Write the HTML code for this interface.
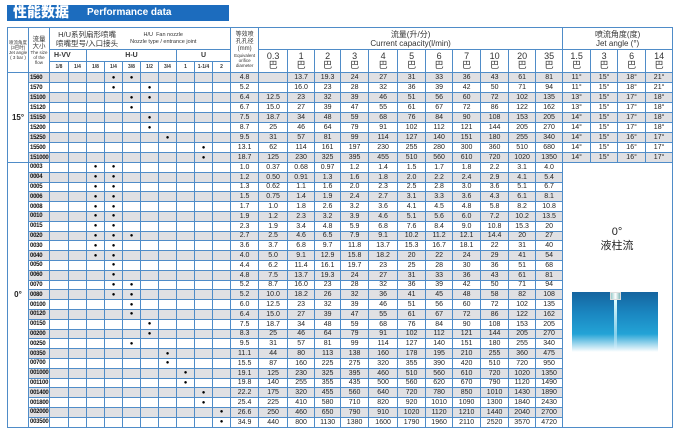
<!DOCTYPE html>
<html><head><meta charset="utf-8"><style>
*{margin:0;padding:0;box-sizing:border-box}
body{width:679px;height:438px;background:#fff;position:relative;overflow:hidden;font-family:"Liberation Sans","Noto Sans CJK SC",sans-serif;color:#333}
.title{position:absolute;left:7px;top:5px;width:222px;height:16px;background:#1c6cbe;color:#fff;font-weight:bold;white-space:nowrap}
.title .cn{position:absolute;left:6px;top:-1px;font-size:14px;line-height:17px;font-family:"Noto Sans CJK SC",sans-serif;font-weight:900}
.title .en{position:absolute;left:80px;top:0;font-size:10px;line-height:16px}
table{position:absolute;left:7px;top:27px;border-collapse:collapse;table-layout:fixed;width:665px;border:1.5px solid #4f8cc8}
td{border:1px solid #4f8cc8;padding:0;text-align:center;font-size:7px;line-height:1;overflow:hidden;white-space:nowrap;color:#222;font-family:"Liberation Sans","Noto Sans CJK SC",sans-serif}
tbody tr{height:10px}
tbody tr.z{height:9.8px}
tr.g td{background:#e0e0e3}
tr.g td.w{background:#fff}
td.s{text-align:left;font-weight:bold;font-size:6px;letter-spacing:-0.25px;padding-left:1px;color:#111}
td.d{font-size:6px;color:#000}
.h td{color:#333}
.ang{font-weight:bold;font-size:8px;background:#fff}
.p{font-size:9px;line-height:9px}
.tiny{font-size:4.5px;line-height:5px}
</style></head><body>
<div class="title"><span class="cn">性能数据</span><span class="en">Performance data</span></div>
<table>
<colgroup>
<col style="width:21px"><col style="width:21px"><col style="width:19px"><col style="width:18px"><col style="width:18px"><col style="width:18px"><col style="width:18px"><col style="width:18px"><col style="width:18px"><col style="width:18px"><col style="width:18px"><col style="width:18px"><col style="width:28px"><col style="width:29px"><col style="width:27px"><col style="width:26px"><col style="width:28px"><col style="width:29px"><col style="width:28px"><col style="width:27px"><col style="width:28px"><col style="width:28px"><col style="width:27px"><col style="width:27px"><col style="width:28px"><col style="width:27px"><col style="width:28px"><col style="width:27px">
</colgroup>
<thead class="h">
<tr style="height:22px"><td rowspan="3" class="tiny">喷流角度<br>(3巴时)<br>Jet angle<br>( 3 bar )</td><td rowspan="3" class="tiny"><span style="font-size:6.5px;line-height:7px">流量<br>大小</span><br>The size<br>of the<br>flow</td>
<td colspan="10" style="text-align:left;padding-left:6px"><div style="display:flex;align-items:center"><div style="font-size:7.5px;line-height:9px;text-align:center">H/U系列扇形喷嘴<br>喷嘴型号/入口接头</div><div style="font-size:5.5px;line-height:7px;text-align:center;margin-left:12px">H/U &nbsp;Fan nozzle<br>Nozzle type / entrance joint</div></div></td>
<td rowspan="3" class="tiny"><span style="font-size:6px;line-height:7px">等效喷<br>孔孔径<br>(mm)</span><br>Equivalent<br>orifice<br>diameter</td>
<td colspan="11" style="font-size:8px;line-height:9px">流量(升/分)<br>Current capacity(l/min)</td>
<td colspan="4" style="font-size:8px;line-height:9px">喷流角度(度)<br>Jet angle (°)</td></tr>
<tr style="height:12px"><td colspan="2" style="font-weight:bold;font-size:7px;text-align:left;padding-left:4px">H-VV</td><td colspan="5" style="font-weight:bold;font-size:7px">H-U</td><td colspan="3" style="font-weight:bold;font-size:7px">U</td>
<td rowspan="2" class="p">0.3<br>巴</td><td rowspan="2" class="p">1<br>巴</td><td rowspan="2" class="p">2<br>巴</td><td rowspan="2" class="p">3<br>巴</td><td rowspan="2" class="p">4<br>巴</td><td rowspan="2" class="p">5<br>巴</td><td rowspan="2" class="p">6<br>巴</td><td rowspan="2" class="p">7<br>巴</td><td rowspan="2" class="p">10<br>巴</td><td rowspan="2" class="p">20<br>巴</td><td rowspan="2" class="p">35<br>巴</td><td rowspan="2" class="p">1.5<br>巴</td><td rowspan="2" class="p">3<br>巴</td><td rowspan="2" class="p">6<br>巴</td><td rowspan="2" class="p">14<br>巴</td></tr>
<tr style="height:11px"><td style="font-size:5px;font-weight:bold">1/8</td><td style="font-size:5px;font-weight:bold">1/4</td><td style="font-size:5px;font-weight:bold">1/8</td><td style="font-size:5px;font-weight:bold">1/4</td><td style="font-size:5px;font-weight:bold">3/8</td><td style="font-size:5px;font-weight:bold">1/2</td><td style="font-size:5px;font-weight:bold">3/4</td><td style="font-size:5px;font-weight:bold">1</td><td style="font-size:5px;font-weight:bold">1-1/4</td><td style="font-size:5px;font-weight:bold">2</td></tr>
</thead>
<tbody>
<tr class="g"><td rowspan="9" class="ang w">15°</td><td class="s">1560</td><td></td><td></td><td></td><td class="d">●</td><td class="d">●</td><td></td><td></td><td></td><td></td><td></td><td>4.8</td><td></td><td>13.7</td><td>19.3</td><td>24</td><td>27</td><td>31</td><td>33</td><td>36</td><td>43</td><td>61</td><td>81</td><td>11°</td><td>15°</td><td>18°</td><td>21°</td></tr>
<tr><td class="s">1570</td><td></td><td></td><td></td><td class="d">●</td><td></td><td class="d">●</td><td></td><td></td><td></td><td></td><td>5.2</td><td></td><td>16.0</td><td>23</td><td>28</td><td>32</td><td>36</td><td>39</td><td>42</td><td>50</td><td>71</td><td>94</td><td>11°</td><td>15°</td><td>18°</td><td>21°</td></tr>
<tr class="g"><td class="s">15100</td><td></td><td></td><td></td><td></td><td class="d">●</td><td class="d">●</td><td></td><td></td><td></td><td></td><td>6.4</td><td>12.5</td><td>23</td><td>32</td><td>39</td><td>46</td><td>51</td><td>56</td><td>60</td><td>72</td><td>102</td><td>135</td><td>13°</td><td>15°</td><td>17°</td><td>18°</td></tr>
<tr><td class="s">15120</td><td></td><td></td><td></td><td></td><td class="d">●</td><td></td><td></td><td></td><td></td><td></td><td>6.7</td><td>15.0</td><td>27</td><td>39</td><td>47</td><td>55</td><td>61</td><td>67</td><td>72</td><td>86</td><td>122</td><td>162</td><td>13°</td><td>15°</td><td>17°</td><td>18°</td></tr>
<tr class="g"><td class="s">15150</td><td></td><td></td><td></td><td></td><td></td><td class="d">●</td><td></td><td></td><td></td><td></td><td>7.5</td><td>18.7</td><td>34</td><td>48</td><td>59</td><td>68</td><td>76</td><td>84</td><td>90</td><td>108</td><td>153</td><td>205</td><td>14°</td><td>15°</td><td>17°</td><td>18°</td></tr>
<tr><td class="s">15200</td><td></td><td></td><td></td><td></td><td></td><td class="d">●</td><td></td><td></td><td></td><td></td><td>8.7</td><td>25</td><td>46</td><td>64</td><td>79</td><td>91</td><td>102</td><td>112</td><td>121</td><td>144</td><td>205</td><td>270</td><td>14°</td><td>15°</td><td>17°</td><td>18°</td></tr>
<tr class="g"><td class="s">15250</td><td></td><td></td><td></td><td></td><td></td><td></td><td class="d">●</td><td></td><td></td><td></td><td>9.5</td><td>31</td><td>57</td><td>81</td><td>99</td><td>114</td><td>127</td><td>140</td><td>151</td><td>180</td><td>255</td><td>340</td><td>14°</td><td>15°</td><td>16°</td><td>17°</td></tr>
<tr><td class="s">15500</td><td></td><td></td><td></td><td></td><td></td><td></td><td></td><td></td><td class="d">●</td><td></td><td>13.1</td><td>62</td><td>114</td><td>161</td><td>197</td><td>230</td><td>255</td><td>280</td><td>300</td><td>360</td><td>510</td><td>680</td><td>14°</td><td>15°</td><td>16°</td><td>17°</td></tr>
<tr class="g"><td class="s">151000</td><td></td><td></td><td></td><td></td><td></td><td></td><td></td><td></td><td class="d">●</td><td></td><td>18.7</td><td>125</td><td>230</td><td>325</td><td>395</td><td>455</td><td>510</td><td>560</td><td>610</td><td>720</td><td>1020</td><td>1350</td><td>14°</td><td>15°</td><td>16°</td><td>17°</td></tr>
<tr class="z"><td rowspan="27" class="ang w">0°</td><td class="s">0003</td><td></td><td></td><td class="d">●</td><td class="d">●</td><td></td><td></td><td></td><td></td><td></td><td></td><td>1.0</td><td>0.37</td><td>0.68</td><td>0.97</td><td>1.2</td><td>1.4</td><td>1.5</td><td>1.7</td><td>1.8</td><td>2.2</td><td>3.1</td><td>4.0</td><td rowspan="27" colspan="4" class="w" style="background:#fff"></td></tr>
<tr class="z g"><td class="s">0004</td><td></td><td></td><td class="d">●</td><td class="d">●</td><td></td><td></td><td></td><td></td><td></td><td></td><td>1.2</td><td>0.50</td><td>0.91</td><td>1.3</td><td>1.6</td><td>1.8</td><td>2.0</td><td>2.2</td><td>2.4</td><td>2.9</td><td>4.1</td><td>5.4</td></tr>
<tr class="z"><td class="s">0005</td><td></td><td></td><td class="d">●</td><td class="d">●</td><td></td><td></td><td></td><td></td><td></td><td></td><td>1.3</td><td>0.62</td><td>1.1</td><td>1.6</td><td>2.0</td><td>2.3</td><td>2.5</td><td>2.8</td><td>3.0</td><td>3.6</td><td>5.1</td><td>6.7</td></tr>
<tr class="z g"><td class="s">0006</td><td></td><td></td><td class="d">●</td><td class="d">●</td><td></td><td></td><td></td><td></td><td></td><td></td><td>1.5</td><td>0.75</td><td>1.4</td><td>1.9</td><td>2.4</td><td>2.7</td><td>3.1</td><td>3.3</td><td>3.6</td><td>4.3</td><td>6.1</td><td>8.1</td></tr>
<tr class="z"><td class="s">0008</td><td></td><td></td><td class="d">●</td><td class="d">●</td><td></td><td></td><td></td><td></td><td></td><td></td><td>1.7</td><td>1.0</td><td>1.8</td><td>2.6</td><td>3.2</td><td>3.6</td><td>4.1</td><td>4.5</td><td>4.8</td><td>5.8</td><td>8.2</td><td>10.8</td></tr>
<tr class="z g"><td class="s">0010</td><td></td><td></td><td class="d">●</td><td class="d">●</td><td></td><td></td><td></td><td></td><td></td><td></td><td>1.9</td><td>1.2</td><td>2.3</td><td>3.2</td><td>3.9</td><td>4.6</td><td>5.1</td><td>5.6</td><td>6.0</td><td>7.2</td><td>10.2</td><td>13.5</td></tr>
<tr class="z"><td class="s">0015</td><td></td><td></td><td class="d">●</td><td class="d">●</td><td></td><td></td><td></td><td></td><td></td><td></td><td>2.3</td><td>1.9</td><td>3.4</td><td>4.8</td><td>5.9</td><td>6.8</td><td>7.6</td><td>8.4</td><td>9.0</td><td>10.8</td><td>15.3</td><td>20</td></tr>
<tr class="z g"><td class="s">0020</td><td></td><td></td><td class="d">●</td><td class="d">●</td><td class="d">●</td><td></td><td></td><td></td><td></td><td></td><td>2.7</td><td>2.5</td><td>4.6</td><td>6.5</td><td>7.9</td><td>9.1</td><td>10.2</td><td>11.2</td><td>12.1</td><td>14.4</td><td>20</td><td>27</td></tr>
<tr class="z"><td class="s">0030</td><td></td><td></td><td class="d">●</td><td class="d">●</td><td></td><td></td><td></td><td></td><td></td><td></td><td>3.6</td><td>3.7</td><td>6.8</td><td>9.7</td><td>11.8</td><td>13.7</td><td>15.3</td><td>16.7</td><td>18.1</td><td>22</td><td>31</td><td>40</td></tr>
<tr class="z g"><td class="s">0040</td><td></td><td></td><td class="d">●</td><td class="d">●</td><td></td><td></td><td></td><td></td><td></td><td></td><td>4.0</td><td>5.0</td><td>9.1</td><td>12.9</td><td>15.8</td><td>18.2</td><td>20</td><td>22</td><td>24</td><td>29</td><td>41</td><td>54</td></tr>
<tr class="z"><td class="s">0050</td><td></td><td></td><td></td><td class="d">●</td><td></td><td></td><td></td><td></td><td></td><td></td><td>4.4</td><td>6.2</td><td>11.4</td><td>16.1</td><td>19.7</td><td>23</td><td>25</td><td>28</td><td>30</td><td>36</td><td>51</td><td>68</td></tr>
<tr class="z g"><td class="s">0060</td><td></td><td></td><td></td><td class="d">●</td><td></td><td></td><td></td><td></td><td></td><td></td><td>4.8</td><td>7.5</td><td>13.7</td><td>19.3</td><td>24</td><td>27</td><td>31</td><td>33</td><td>36</td><td>43</td><td>61</td><td>81</td></tr>
<tr class="z"><td class="s">0070</td><td></td><td></td><td></td><td class="d">●</td><td class="d">●</td><td></td><td></td><td></td><td></td><td></td><td>5.2</td><td>8.7</td><td>16.0</td><td>23</td><td>28</td><td>32</td><td>36</td><td>39</td><td>42</td><td>50</td><td>71</td><td>94</td></tr>
<tr class="z g"><td class="s">0080</td><td></td><td></td><td></td><td class="d">●</td><td class="d">●</td><td></td><td></td><td></td><td></td><td></td><td>5.2</td><td>10.0</td><td>18.2</td><td>26</td><td>32</td><td>36</td><td>41</td><td>45</td><td>48</td><td>58</td><td>82</td><td>108</td></tr>
<tr class="z"><td class="s">00100</td><td></td><td></td><td></td><td></td><td class="d">●</td><td></td><td></td><td></td><td></td><td></td><td>6.0</td><td>12.5</td><td>23</td><td>32</td><td>39</td><td>46</td><td>51</td><td>56</td><td>60</td><td>72</td><td>102</td><td>135</td></tr>
<tr class="z g"><td class="s">00120</td><td></td><td></td><td></td><td></td><td class="d">●</td><td></td><td></td><td></td><td></td><td></td><td>6.4</td><td>15.0</td><td>27</td><td>39</td><td>47</td><td>55</td><td>61</td><td>67</td><td>72</td><td>86</td><td>122</td><td>162</td></tr>
<tr class="z"><td class="s">00150</td><td></td><td></td><td></td><td></td><td></td><td class="d">●</td><td></td><td></td><td></td><td></td><td>7.5</td><td>18.7</td><td>34</td><td>48</td><td>59</td><td>68</td><td>76</td><td>84</td><td>90</td><td>108</td><td>153</td><td>205</td></tr>
<tr class="z g"><td class="s">00200</td><td></td><td></td><td></td><td></td><td></td><td class="d">●</td><td></td><td></td><td></td><td></td><td>8.3</td><td>25</td><td>46</td><td>64</td><td>79</td><td>91</td><td>102</td><td>112</td><td>121</td><td>144</td><td>205</td><td>270</td></tr>
<tr class="z"><td class="s">00250</td><td></td><td></td><td></td><td></td><td class="d">●</td><td></td><td></td><td></td><td></td><td></td><td>9.5</td><td>31</td><td>57</td><td>81</td><td>99</td><td>114</td><td>127</td><td>140</td><td>151</td><td>180</td><td>255</td><td>340</td></tr>
<tr class="z g"><td class="s">00350</td><td></td><td></td><td></td><td></td><td></td><td></td><td class="d">●</td><td></td><td></td><td></td><td>11.1</td><td>44</td><td>80</td><td>113</td><td>138</td><td>160</td><td>178</td><td>195</td><td>210</td><td>255</td><td>360</td><td>475</td></tr>
<tr class="z"><td class="s">00700</td><td></td><td></td><td></td><td></td><td></td><td></td><td class="d">●</td><td></td><td></td><td></td><td>15.5</td><td>87</td><td>160</td><td>225</td><td>275</td><td>320</td><td>355</td><td>390</td><td>420</td><td>510</td><td>720</td><td>950</td></tr>
<tr class="z g"><td class="s">001000</td><td></td><td></td><td></td><td></td><td></td><td></td><td></td><td class="d">●</td><td></td><td></td><td>19.1</td><td>125</td><td>230</td><td>325</td><td>395</td><td>460</td><td>510</td><td>560</td><td>610</td><td>720</td><td>1020</td><td>1350</td></tr>
<tr class="z"><td class="s">001100</td><td></td><td></td><td></td><td></td><td></td><td></td><td></td><td class="d">●</td><td></td><td></td><td>19.8</td><td>140</td><td>255</td><td>355</td><td>435</td><td>500</td><td>560</td><td>620</td><td>670</td><td>790</td><td>1120</td><td>1490</td></tr>
<tr class="z g"><td class="s">001400</td><td></td><td></td><td></td><td></td><td></td><td></td><td></td><td></td><td class="d">●</td><td></td><td>22.2</td><td>175</td><td>320</td><td>455</td><td>560</td><td>640</td><td>720</td><td>780</td><td>850</td><td>1010</td><td>1430</td><td>1890</td></tr>
<tr class="z"><td class="s">001800</td><td></td><td></td><td></td><td></td><td></td><td></td><td></td><td></td><td class="d">●</td><td></td><td>25.4</td><td>225</td><td>410</td><td>580</td><td>710</td><td>820</td><td>920</td><td>1010</td><td>1090</td><td>1300</td><td>1840</td><td>2430</td></tr>
<tr class="z g"><td class="s">002000</td><td></td><td></td><td></td><td></td><td></td><td></td><td></td><td></td><td></td><td class="d">●</td><td>26.6</td><td>250</td><td>460</td><td>650</td><td>790</td><td>910</td><td>1020</td><td>1120</td><td>1210</td><td>1440</td><td>2040</td><td>2700</td></tr>
<tr class="z"><td class="s">003500</td><td></td><td></td><td></td><td></td><td></td><td></td><td></td><td></td><td></td><td class="d">●</td><td>34.9</td><td>440</td><td>800</td><td>1130</td><td>1380</td><td>1600</td><td>1790</td><td>1960</td><td>2110</td><td>2520</td><td>3570</td><td>4720</td></tr>
</tbody>
</table>
<div style="position:absolute;left:562px;top:226px;width:110px;text-align:center;font-size:11px;line-height:13px;color:#222">0°<br><span style="font-family:'Noto Sans CJK SC',sans-serif">液柱流</span></div>
<div style="position:absolute;left:572px;top:292px;width:86px;height:60px;background:linear-gradient(#15649f 0%,#1a86c0 35%,#23a3d6 70%,rgba(60,170,220,0) 100%)"></div>
<div style="position:absolute;left:610px;top:292px;width:11px;height:8px;background:linear-gradient(90deg,#9cc,#fff,#8bb);border:1px solid #ddd"></div>
<div style="position:absolute;left:614px;top:300px;width:3px;height:50px;background:linear-gradient(#dff,rgba(220,240,255,0.3))"></div>
</body></html>
